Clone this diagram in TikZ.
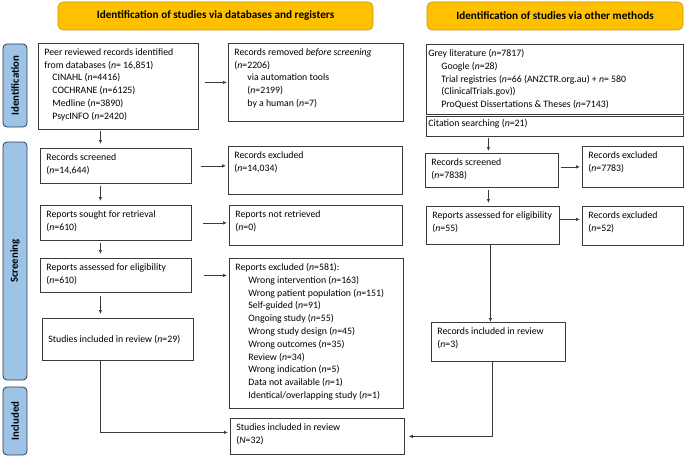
\documentclass[tikz,border=0pt]{standalone}
\usepackage{fontspec}
\setmainfont{Carlito}
\usetikzlibrary{positioning}
\usetikzlibrary{arrows.meta}
\definecolor{headColor}{HTML}{FFC000}
\definecolor{headBorder}{HTML}{C99A00}
\definecolor{stageColor}{HTML}{9DC3E6}
\definecolor{stageBorder}{HTML}{2E3B4E}
\definecolor{lineColor}{HTML}{3A3A3A}
\newcommand{\nn}{\textit{n}}
\newcommand{\ind}{\hspace*{8pt}}
\newcommand{\indd}{\hspace*{13pt}}
\newcommand{\boxtext}[4][t]{\parbox[c][\dimexpr#3pt-10pt\relax][#1]{\dimexpr#2pt-12pt\relax}{\raggedright #4}}

\begin{document}
\begin{tikzpicture}[x=1pt,y=-1pt]

          \tikzstyle{headNode} = [draw=headBorder, fill=headColor, rounded corners=5pt, line width=0.6pt, font=\bfseries\fontsize{11.2}{13}\selectfont];
          \tikzstyle{stageNode} = [draw=stageBorder, fill=stageColor, rounded corners=4pt, line width=0.8pt, rotate=90, font=\bfseries\fontsize{10.8}{12}\selectfont];
          \tikzstyle{flowBox} = [draw=lineColor, line width=0.8pt, anchor=north west, inner xsep=6pt, inner ysep=5pt, font=\fontsize{9.8}{12.8}\selectfont];
          \tikzstyle{flowArrow} = [lineColor, line width=0.7pt, -{Latex[length=4pt,width=3.5pt]}];

          \useasboundingbox (0,0) rectangle (685,460);

          % headers and stages
          \node[headNode, minimum width=315pt, minimum height=28pt] (dbHead) at (215.5,16) {Identification of studies via databases and registers};
          \node[headNode, minimum width=256pt, minimum height=28pt] (otherHead) at (555,16) {Identification of studies via other methods};
          \node[stageNode, minimum width=83pt, minimum height=24pt] (idStage) at (15,85.5) {Identification};
          \node[stageNode, minimum width=238pt, minimum height=24pt] (scrStage) at (15,261) {Screening};
          \node[stageNode, minimum width=68pt, minimum height=24pt] (inclStage) at (15,421) {Included};

          % databases and registers
          \node[flowBox] (dbRec) at (38,43) {\boxtext{160}{86}{Peer reviewed records identified\\ from databases (\nn= 16,851)\\ \ind CINAHL (\nn=4416)\\ \ind COCHRANE (\nn=6125)\\ \ind Medline (\nn=3890)\\ \ind PsycINFO (\nn=2420)}};
          \node[flowBox] (removed) at (228,43) {\boxtext{175}{78}{Records removed \textit{before screening}\\ (\nn=2206)\\ \indd via automation tools\\ \indd (\nn=2199)\\ \indd by a human (\nn=7)}};
          \node[flowBox] (screened) at (40,148) {\boxtext{151}{35}{Records screened\\ (\nn=14,644)}};
          \node[flowBox] (excluded) at (228,146) {\boxtext{174}{48}{Records excluded\\ (\nn=14,034)}};
          \node[flowBox] (sought) at (40,205) {\boxtext{151}{35}{Reports sought for retrieval\\ (\nn=610)}};
          \node[flowBox] (notRetr) at (229,205) {\boxtext{173}{40}{Reports not retrieved\\ (\nn=0)}};
          \node[flowBox] (assessed) at (40,258) {\boxtext{151}{34}{Reports assessed for eligibility\\ (\nn=610)}};
          \node[flowBox] (repExcl) at (229,258) {\boxtext{174}{150}{Reports excluded (\nn=581):\\ \indd Wrong intervention (\nn=163)\\ \indd Wrong patient population (\nn=151)\\ \indd Self-guided (\nn=91)\\ \indd Ongoing study (\nn=55)\\ \indd Wrong study design (\nn=45)\\ \indd Wrong outcomes (\nn=35)\\ \indd Review (\nn=34)\\ \indd Wrong indication (\nn=5)\\ \indd Data not available (\nn=1)\\ \indd Identical/overlapping study (\nn=1)}};
          \node[flowBox] (inclA) at (42,318) {\boxtext[c]{151}{42}{Studies included in review (\nn=29)}};
          \node[flowBox] (total) at (230,418) {\boxtext{174}{36}{Studies included in review\\ (\textit{N}=32)}};

          % other methods
          \node[flowBox, inner xsep=2pt] (greyLit) at (426,44) {\boxtext{265}{70}{Grey literature (\nn=7817)\\ \indd Google (\nn=28)\\ \indd Trial registries (\nn=66 (ANZCTR.org.au) + \nn= 580\\ \indd (ClinicalTrials.gov))\\ \indd ProQuest Dissertations \& Theses (\nn=7143)}};
          \node[flowBox, inner xsep=2pt, inner ysep=3pt] (citation) at (426,116) {\boxtext{265}{24}{Citation searching (\nn=21)}};
          \node[flowBox] (otherScreened) at (425,153) {\boxtext{133}{34}{Records screened\\ (\nn=7838)}};
          \node[flowBox] (otherExcl) at (582,146) {\boxtext{101}{41}{Records excluded\\ (\nn=7783)}};
          \node[flowBox] (otherAssessed) at (426,206) {\boxtext{133}{38}{\mbox{Reports assessed for eligibility}\\ (\nn=55)}};
          \node[flowBox] (otherRepExcl) at (582,206) {\boxtext{101}{39}{Records excluded\\ (\nn=52)}};
          \node[flowBox] (otherIncl) at (431,322) {\boxtext{134}{39}{Records included in review\\ (\nn=3)}};

          % arrows, left column
          \draw[flowArrow, shorten <=6pt, shorten >=1pt] (dbRec.east |- removed.west) -- (removed.west);
          \draw[flowArrow, shorten <=9pt, shorten >=2pt] (screened.east) -- (screened.east -| excluded.west);
          \draw[flowArrow, shorten <=11pt, shorten >=2pt] (sought.east) -- (sought.east -| notRetr.west);
          \draw[flowArrow, shorten <=12pt, shorten >=2pt] (assessed.east) -- (assessed.east -| repExcl.west);
          \draw[flowArrow, shorten <=1pt, shorten >=4pt] ([xshift=-18pt]dbRec.south) -- ([xshift=-18pt]dbRec.south |- screened.north);
          \draw[flowArrow, shorten <=2pt, shorten >=4pt] ([xshift=-15.5pt]screened.south) -- ([xshift=-15.5pt]screened.south |- sought.north);
          \draw[flowArrow, shorten <=2pt, shorten >=4pt] ([xshift=-15.5pt]sought.south) -- ([xshift=-15.5pt]sought.south |- assessed.north);
          \draw[flowArrow, shorten <=3pt, shorten >=4pt] ([xshift=-15.5pt]assessed.south) -- ([xshift=-15.5pt]assessed.south |- inclA.north);
          \draw[flowArrow, shorten >=2pt] ([xshift=-17.5pt]inclA.south) |- ([yshift=4pt]total.west);

          % arrows, right column
          \draw[flowArrow, shorten <=1pt, shorten >=2pt] ([xshift=-3.5pt]otherScreened.north |- citation.south) -- ([xshift=-3.5pt]otherScreened.north);
          \draw[flowArrow, shorten <=2pt, shorten >=2pt] (otherScreened.east |- otherExcl.west) -- (otherExcl.west);
          \draw[flowArrow, shorten <=2pt, shorten >=3pt] ([xshift=-3.5pt]otherScreened.south) -- ([xshift=-3.5pt]otherScreened.south |- otherAssessed.north);
          \draw[flowArrow, shorten >=2pt] ([yshift=6pt]otherAssessed.east) -- ([yshift=6pt]otherAssessed.east -| otherRepExcl.west);
          \draw[flowArrow] ([xshift=-2.5pt]otherAssessed.south) -- ([xshift=-2.5pt]otherAssessed.south |- otherIncl.north);
          \draw[flowArrow, shorten >=4pt] ([xshift=-6pt]otherIncl.south) |- (total.east);
        \end{tikzpicture}
\end{document}
